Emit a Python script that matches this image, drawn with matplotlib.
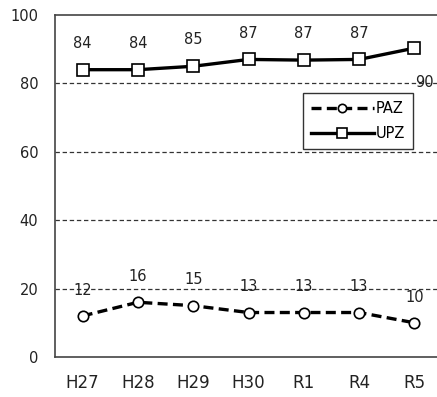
import matplotlib
matplotlib.use("Agg")
import matplotlib.pyplot as plt

plt.rcParams["font.family"] = ["DejaVu Sans"]

years = ["H27", "H28", "H29", "H30", "R1", "R4", "R5"]
paz = [12, 16, 15, 13, 13, 13, 10]
upz = [84, 84, 85, 87, 86.8, 87, 90.3]
upz_labels = ["84", "84", "85", "87", "87", "87", "90"]
paz_labels = ["12", "16", "15", "13", "13", "13", "10"]

fig = plt.figure(figsize=(4.37, 3.97), dpi=100)
ax = fig.add_axes([0.1259, 0.1008, 0.8856, 0.8615])

x = list(range(len(years)))
for y in (20, 40, 60, 80):
    ax.axhline(y, color="#333333", linestyle=(0, (3.5, 2.2)), linewidth=0.9, zorder=1)

ax.plot(x, paz, color="black", linewidth=2.4, linestyle=(0, (3, 1.6)), marker="o",
        markersize=7.5, markerfacecolor="white", markeredgecolor="black",
        markeredgewidth=1.2, label="PAZ", zorder=3)
ax.plot(x, upz, color="black", linewidth=2.4, marker="s",
        markersize=8.5, markerfacecolor="white", markeredgecolor="black",
        markeredgewidth=1.2, label="UPZ", zorder=3)

for i, (v, t) in enumerate(zip(upz, upz_labels)):
    if i == len(x) - 1:
        ax.annotate(t, (i, v), xytext=(7, -25), textcoords="offset points",
                    ha="center", va="center", fontsize=10.5, color="#222222")
    else:
        ax.annotate(t, (i, v), xytext=(0, 19), textcoords="offset points",
                    ha="center", va="center", fontsize=10.5, color="#222222")
for i, (v, t) in enumerate(zip(paz, paz_labels)):
    ax.annotate(t, (i, v), xytext=(0, 18.5), textcoords="offset points",
                ha="center", va="center", fontsize=10.5, color="#222222")

ax.set_xlim(-0.5, len(x) - 0.5)
ax.set_ylim(0, 100)
ax.set_yticks([0, 20, 40, 60, 80, 100])
ax.set_xticks(x)
ax.set_xticklabels(years)
ax.tick_params(axis="both", length=0, colors="#222222")
ax.tick_params(axis="x", pad=12, labelsize=12)
ax.tick_params(axis="y", pad=12, labelsize=10.5)
for side in ("left", "bottom", "top"):
    ax.spines[side].set_color("#444444")
    ax.spines[side].set_linewidth(1.2)
ax.spines["right"].set_visible(False)

leg = ax.legend(loc="upper left", bbox_to_anchor=(0.641, 0.772), frameon=True,
                fancybox=False, edgecolor="black", fontsize=10.5, handlelength=4.3,
                borderpad=0.55, labelspacing=0.7, handletextpad=0.15,
                borderaxespad=0, markerscale=0.8)
leg.get_frame().set_linewidth(1.0)

fig.savefig("out.png", dpi=100)
